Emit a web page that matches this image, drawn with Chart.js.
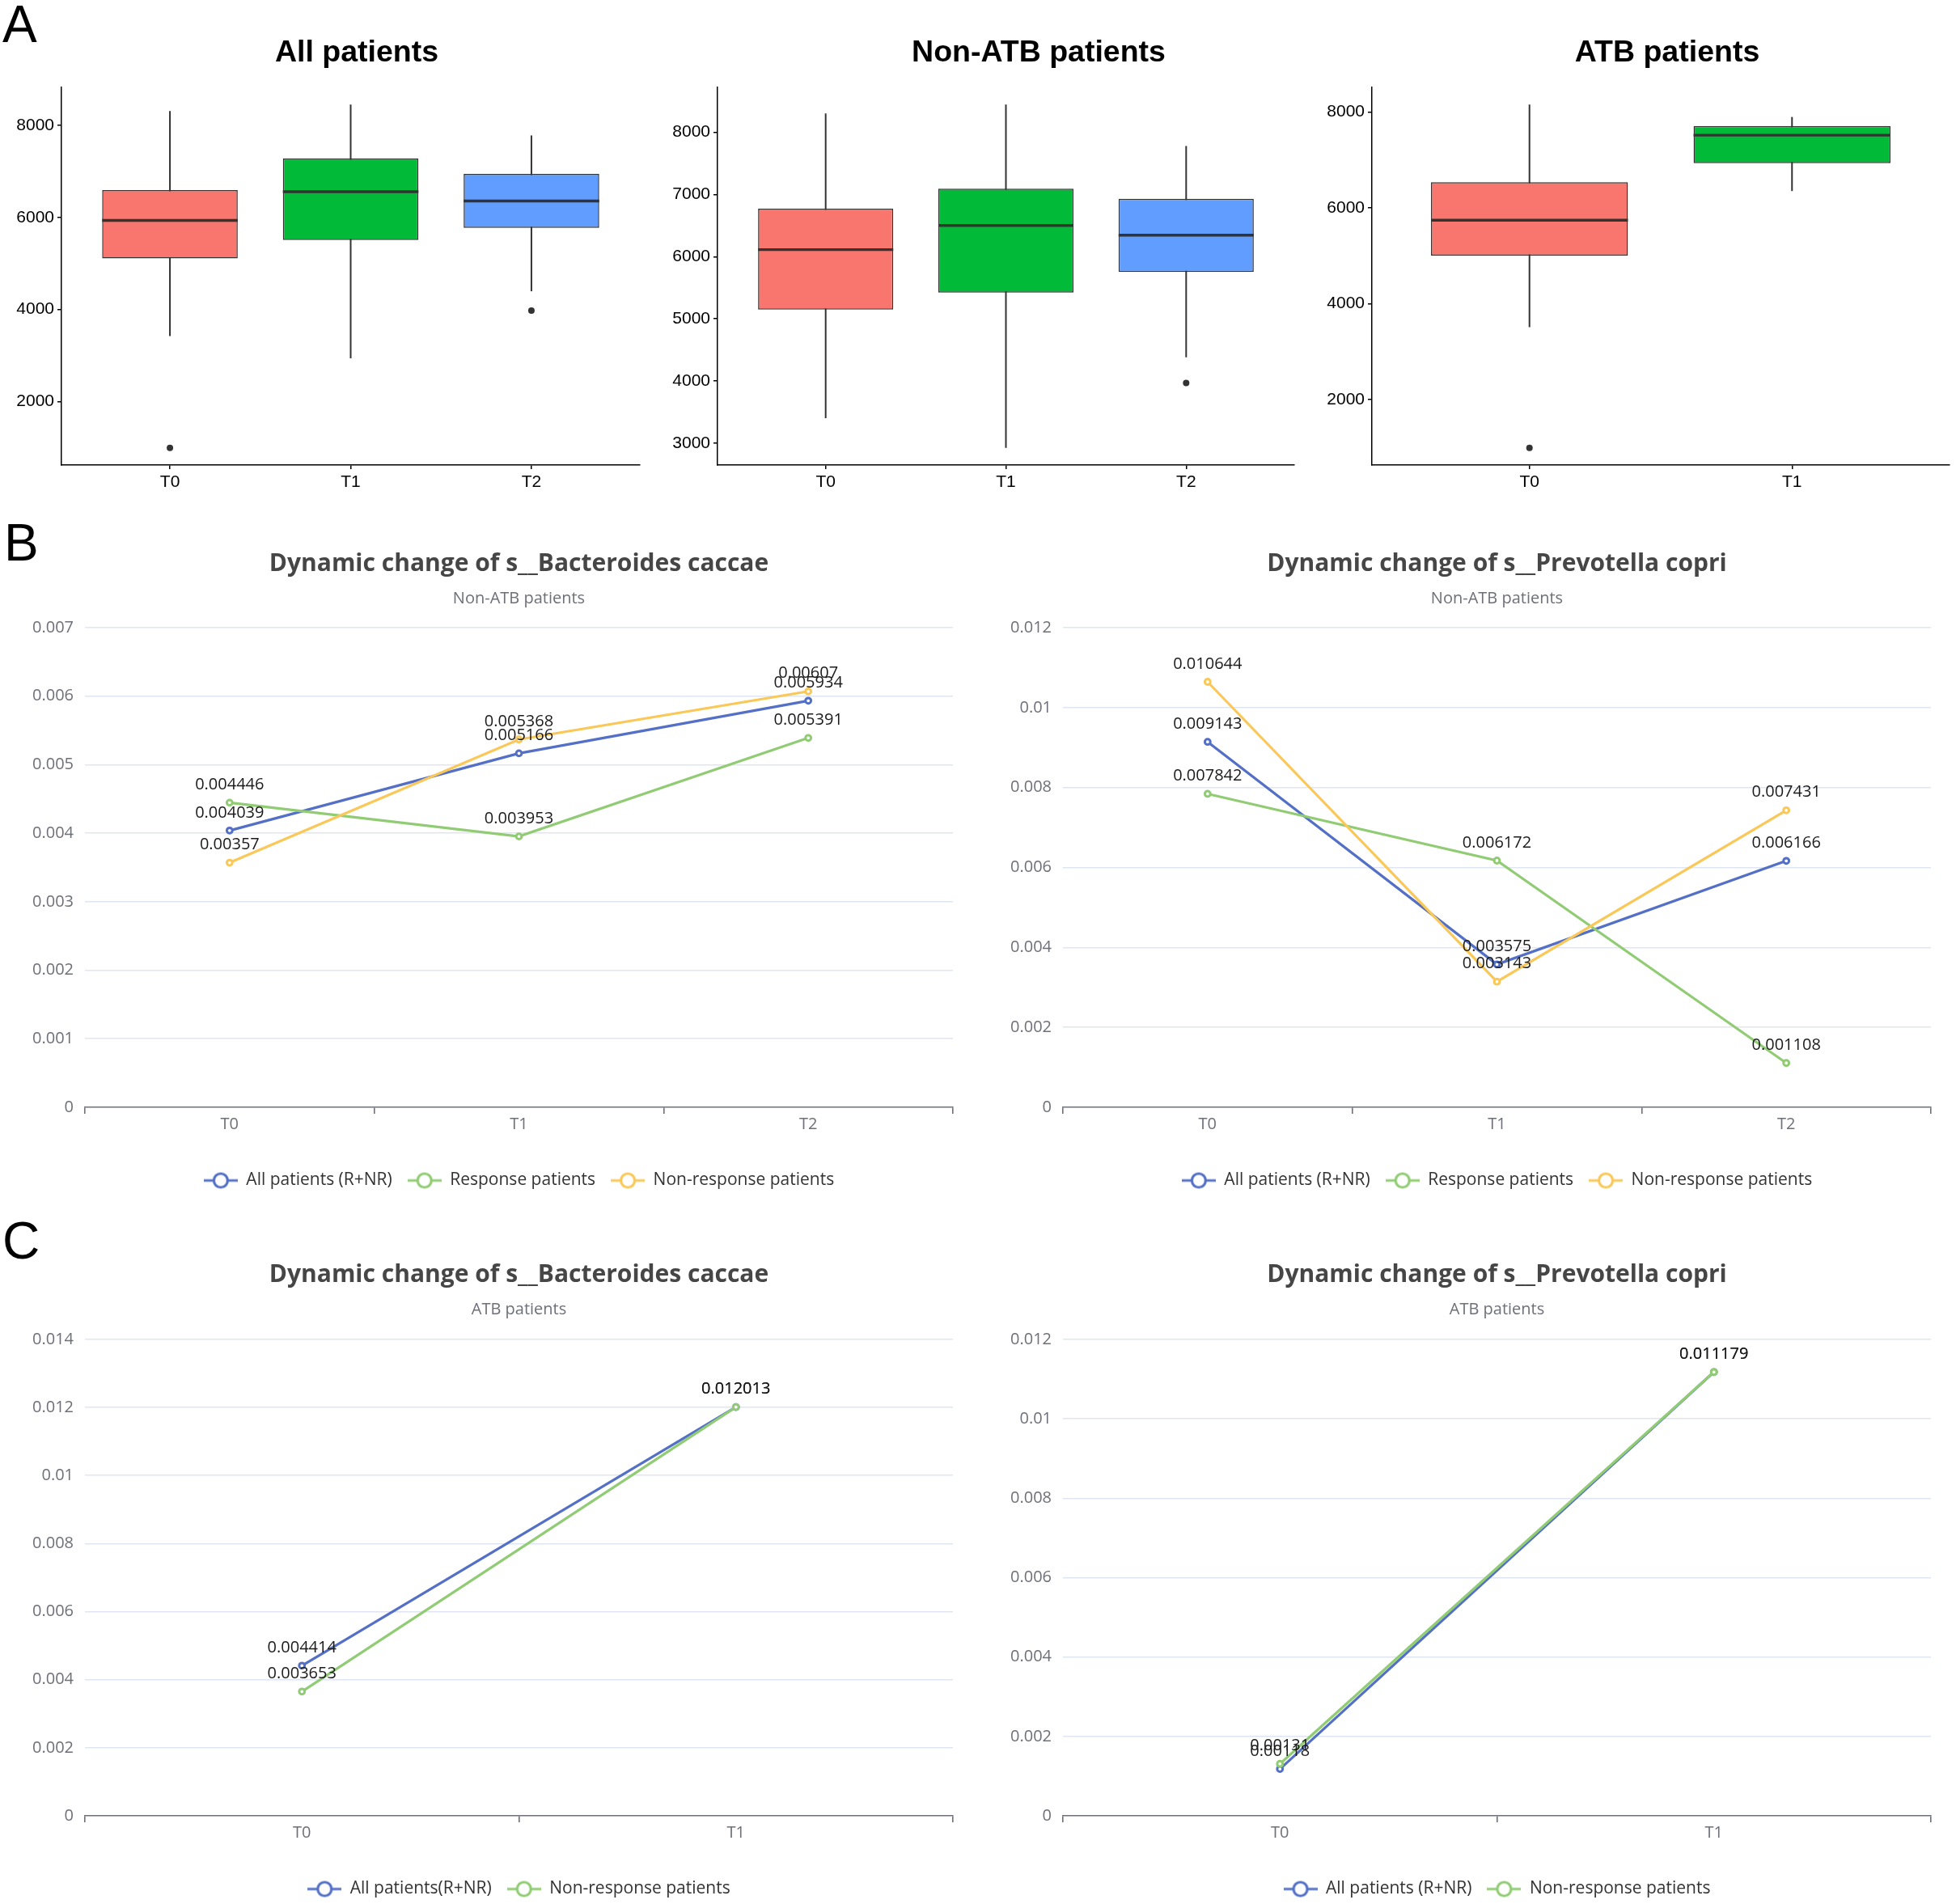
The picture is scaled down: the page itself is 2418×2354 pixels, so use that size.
<!DOCTYPE html>
<html>
<head>
<meta charset="utf-8">
<script src="https://cdn.jsdelivr.net/npm/chart.js@4.4.1/dist/chart.umd.min.js"></script>
<style>
  html, body { margin: 0; padding: 0; background: #fff; }
  body { width: 2418px; height: 2354px; position: relative; overflow: hidden; }
  .box { position: absolute; }
  .tag { position: absolute; font-family: "Liberation Sans", Arial, sans-serif; font-size: 64px; line-height: 1; color: #000; }
</style>
</head>
<body>
<div class="tag" style="left:3px;top:-2px">A</div>
<div class="tag" style="left:5px;top:639px">B</div>
<div class="tag" style="left:3px;top:1502px">C</div>

<div class="box" style="left:0px;top:0px;width:800px;height:620px"><canvas id="boxAll"></canvas></div>
<div class="box" style="left:810px;top:0px;width:800px;height:620px"><canvas id="boxNonAtb"></canvas></div>
<div class="box" style="left:1615px;top:0px;width:803px;height:620px"><canvas id="boxAtb"></canvas></div>

<div class="box" style="left:0px;top:660px;width:1283px;height:820px"><canvas id="lineB1"></canvas></div>
<div class="box" style="left:1210px;top:660px;width:1281px;height:820px"><canvas id="lineB2"></canvas></div>
<div class="box" style="left:0px;top:1530px;width:1283px;height:826px"><canvas id="lineC1"></canvas></div>
<div class="box" style="left:1210px;top:1530px;width:1281px;height:826px"><canvas id="lineC2"></canvas></div>

<script>
// time points
var tp3 = ['T0', 'T1', 'T2'];
var tp2 = ['T0', 'T1'];

// A - box plots: whisker low, Q1, median, Q3, whisker high, outliers
var allLow = [3420, 2940, 4395];
var allQ1 = [5110, 5510, 5770];
var allMed = [5935, 6558, 6355];
var allQ3 = [6595, 7280, 6945];
var allHigh = [8310, 8452, 7780];
var allOutAt = ['T0', 'T2'];
var allOutVal = [995, 3975];
var allTicks = [2000, 4000, 6000, 8000];

var nonLow = [3401, 2923, 4381];
var nonQ1 = [5149, 5421, 5753];
var nonMed = [6113, 6502, 6345];
var nonQ3 = [6771, 7093, 6931];
var nonHigh = [8303, 8447, 7779];
var nonOutAt = ['T2'];
var nonOutVal = [3969];
var nonTicks = [3000, 4000, 5000, 6000, 7000, 8000];

var atbLow = [3507, 6347];
var atbQ1 = [5000, 6927];
var atbMed = [5740, 7513];
var atbQ3 = [6533, 7707];
var atbHigh = [8153, 7893];
var atbOutAt = ['T0'];
var atbOutVal = [987];
var atbTicks = [2000, 4000, 6000, 8000];

// B - non-ATB patients
var namesB = ['All patients (R+NR)', 'Response patients', 'Non-response patients'];
var bcNonAll = [0.004039, 0.005166, 0.005934];
var bcNonResp = [0.004446, 0.003953, 0.005391];
var bcNonNonResp = [0.00357, 0.005368, 0.00607];
var pcNonAll = [0.009143, 0.003575, 0.006166];
var pcNonResp = [0.007842, 0.006172, 0.001108];
var pcNonNonResp = [0.010644, 0.003143, 0.007431];

// C - ATB patients
var namesC1 = ['All patients(R+NR)', 'Non-response patients'];
var namesC2 = ['All patients (R+NR)', 'Non-response patients'];
var bcAtbAll = [0.004414, 0.012013];
var bcAtbNonResp = [0.003653, 0.012013];
var pcAtbAll = [0.00118, 0.011179];
var pcAtbNonResp = [0.00131, 0.011179];

var ggFont = '"Liberation Sans", Arial, sans-serif';
var ecFont = '"Open Sans", "Noto Sans", sans-serif';
var boxFill = ['#F8766D', '#00BA38', '#619CFF'];
var ecColors = ['#5470C6', '#91CC75', '#FAC858'];

// ggplot style title, placed freely over the panel
var panelTitle = {
  id: 'panelTitle',
  afterDraw: function (chart, args, opts) {
    var c = chart.ctx;
    c.save();
    c.font = 'bold 37.5px ' + ggFont;
    c.fillStyle = '#000';
    c.textAlign = 'center';
    c.textBaseline = 'middle';
    c.fillText(opts.text, opts.x, opts.y);
    c.restore();
  }
};

// thick median bar across each box
var medianLine = {
  id: 'medianLine',
  afterDatasetsDraw: function (chart, args, opts) {
    var c = chart.ctx, ys = chart.scales.y;
    c.save();
    c.strokeStyle = '#333333';
    c.lineWidth = 3.4;
    chart.getDatasetMeta(0).data.forEach(function (bar, i) {
      var py = ys.getPixelForValue(opts.values[i]);
      c.beginPath();
      c.moveTo(bar.x - bar.width / 2, py);
      c.lineTo(bar.x + bar.width / 2, py);
      c.stroke();
    });
    c.restore();
  }
};

function boxChart(id, title, titleX, cats, low, q1, med, q3, high, outAt, outVal, yMin, yMax, yTicks, axisW, padR) {
  var pts = function (a, b) {
    return cats.map(function (c, i) { return {x: i + 1, y: [a[i], b[i]]}; });
  };
  new Chart(document.getElementById(id), {
    type: 'bar',
    data: {
      datasets: [
        {data: pts(q1, q3), backgroundColor: boxFill, borderColor: '#333333', borderWidth: 1.5,
         borderSkipped: false, grouped: false, categoryPercentage: 1, barPercentage: 0.75, order: 1},
        {data: pts(low, high), backgroundColor: '#333333', maxBarThickness: 2, grouped: false, order: 2},
        {type: 'scatter', order: 0, pointRadius: 4, backgroundColor: '#333333', borderWidth: 0,
         data: outAt.map(function (c, i) { return {x: cats.indexOf(c) + 1, y: outVal[i]}; })}
      ]
    },
    plugins: [medianLine, panelTitle],
    options: {
      responsive: true, maintainAspectRatio: false, animation: false,
      layout: {padding: {top: 108, right: padR, left: 0, bottom: 0}},
      plugins: {
        legend: {display: false}, tooltip: {enabled: false},
        panelTitle: {text: title, x: titleX, y: 66},
        medianLine: {values: med}
      },
      scales: {
        x: {
          type: 'linear', min: 0.4, max: cats.length + 0.6, offset: false,
          afterFit: function (s) { s.height = 45; },
          afterBuildTicks: function (s) { s.ticks = cats.map(function (c, i) { return {value: i + 1}; }); },
          ticks: {color: '#000', padding: 4, maxRotation: 0, autoSkip: false,
                  font: {family: ggFont, size: 21},
                  callback: function (v) { return cats[Math.round(v) - 1]; }},
          grid: {offset: false, drawOnChartArea: false, tickLength: 5, color: '#000', lineWidth: 1.5},
          border: {color: '#000', width: 1.5}
        },
        y: {
          min: yMin, max: yMax,
          afterFit: function (s) { s.width = axisW; },
          afterBuildTicks: function (s) { s.ticks = yTicks.map(function (v) { return {value: v}; }); },
          ticks: {color: '#000', padding: 4, autoSkip: false, font: {family: ggFont, size: 21},
                  callback: function (v) { return String(v); }},
          grid: {drawOnChartArea: false, tickLength: 5, color: '#000', lineWidth: 1.5},
          border: {color: '#000', width: 1.5}
        }
      }
    }
  });
}

boxChart('boxAll', 'All patients', 441, tp3, allLow, allQ1, allMed, allQ3, allHigh, allOutAt, allOutVal, 620, 8824, allTicks, 76, 9);
boxChart('boxNonAtb', 'Non-ATB patients', 474, tp3, nonLow, nonQ1, nonMed, nonQ3, nonHigh, nonOutAt, nonOutVal, 2647, 8723, nonTicks, 77, 10);
boxChart('boxAtb', 'ATB patients', 446, tp2, atbLow, atbQ1, atbMed, atbQ3, atbHigh, atbOutAt, atbOutVal, 629, 8511, atbTicks, 81, 8);

// legend icon: line with an empty circle
function legendIcon(color) {
  var c = document.createElement('canvas');
  c.width = 42; c.height = 24;
  var g = c.getContext('2d');
  g.strokeStyle = color; g.lineWidth = 3.2;
  g.beginPath(); g.moveTo(0, 12); g.lineTo(42, 12); g.stroke();
  g.beginPath(); g.arc(21, 12, 8.5, 0, Math.PI * 2);
  g.fillStyle = '#fff'; g.fill(); g.stroke();
  return c;
}
var icons = ecColors.map(legendIcon);

// value labels above each point
var pointLabels = {
  id: 'pointLabels',
  afterDatasetsDraw: function (chart) {
    var c = chart.ctx;
    c.save();
    c.font = '20px ' + ecFont;
    c.fillStyle = '#1a1a1a';
    c.textAlign = 'center';
    c.textBaseline = 'bottom';
    chart.data.datasets.forEach(function (ds, i) {
      chart.getDatasetMeta(i).data.forEach(function (pt, j) {
        c.fillText(String(ds.data[j]), pt.x, pt.y - 12);
      });
    });
    c.restore();
  }
};

function lineChart(id, title, sub, cats, names, series, yMax, yStep, axisW, pads) {
  new Chart(document.getElementById(id), {
    type: 'line',
    data: {
      labels: cats,
      datasets: series.map(function (s, i) {
        return {
          label: names[i], data: s, order: series.length - i, yAxisID: 'y',
          borderColor: ecColors[i], backgroundColor: ecColors[i], borderWidth: 3.2, tension: 0,
          pointRadius: 3.4, pointBorderWidth: 3, pointBackgroundColor: '#fff', pointBorderColor: ecColors[i]
        };
      })
    },
    plugins: [pointLabels],
    options: {
      responsive: true, maintainAspectRatio: false, animation: false,
      layout: {padding: 0},
      plugins: {
        title: {display: true, text: title, color: '#464646',
                font: {family: ecFont, size: 30, weight: 'bold', lineHeight: 1.2},
                padding: {top: pads[0], bottom: pads[1]}},
        subtitle: {display: true, text: sub, color: '#6E7079',
                   font: {family: ecFont, size: 20, lineHeight: 1.2},
                   padding: {top: 0, bottom: pads[2]}},
        legend: {
          position: 'bottom',
          labels: {
            usePointStyle: true, pointStyleWidth: 42, boxHeight: 21, padding: 19, color: '#333',
            font: {family: ecFont, size: 21},
            sort: function (a, b) { return a.datasetIndex - b.datasetIndex; },
            generateLabels: function (chart) {
              return Chart.defaults.plugins.legend.labels.generateLabels(chart).map(function (it) {
                it.pointStyle = icons[it.datasetIndex];
                return it;
              });
            }
          }
        },
        tooltip: {enabled: false}
      },
      scales: {
        x: {
          offset: true,
          afterFit: function (s) { s.height = 61; },
          ticks: {color: '#6E7079', padding: 1, maxRotation: 0, font: {family: ecFont, size: 20}},
          grid: {offset: true, drawOnChartArea: false, tickLength: 8, color: '#6E7079', lineWidth: 1.6},
          border: {color: '#6E7079', width: 1.6}
        },
        y: {
          min: 0, max: yMax,
          afterFit: function (s) { s.width = axisW; },
          ticks: {stepSize: yStep, color: '#6E7079', padding: 14, font: {family: ecFont, size: 20},
                  callback: function (v) { return String(Number(v.toFixed(4))); }},
          grid: {drawTicks: false, lineWidth: 1.6,
                 color: function (ctx) { return ctx.tick && ctx.tick.value === 0 ? 'rgba(0,0,0,0)' : '#E0E6F1'; }},
          border: {display: false}
        },
        // empty right margin so the title and legend centre over the plot
        yPad: {
          position: 'right',
          afterFit: function (s) { s.width = axisW; },
          ticks: {display: false}, grid: {display: false}, border: {display: false}
        }
      }
    }
  });
}

lineChart('lineB1', 'Dynamic change of s__Bacteroides caccae', 'Non-ATB patients', tp3, namesB,
  [bcNonAll, bcNonResp, bcNonNonResp], 0.007, 0.001, 105, [19, 13.5, 23.5]);
lineChart('lineB2', 'Dynamic change of s__Prevotella copri', 'Non-ATB patients', tp3, namesB,
  [pcNonAll, pcNonResp, pcNonNonResp], 0.012, 0.002, 104, [19, 13.5, 23.5]);
lineChart('lineC1', 'Dynamic change of s__Bacteroides caccae', 'ATB patients', tp2, namesC1,
  [bcAtbAll, bcAtbNonResp], 0.014, 0.002, 105, [28, 13, 25]);
lineChart('lineC2', 'Dynamic change of s__Prevotella copri', 'ATB patients', tp2, namesC2,
  [pcAtbAll, pcAtbNonResp], 0.012, 0.002, 104, [28, 13, 25]);
</script>
</body>
</html>
